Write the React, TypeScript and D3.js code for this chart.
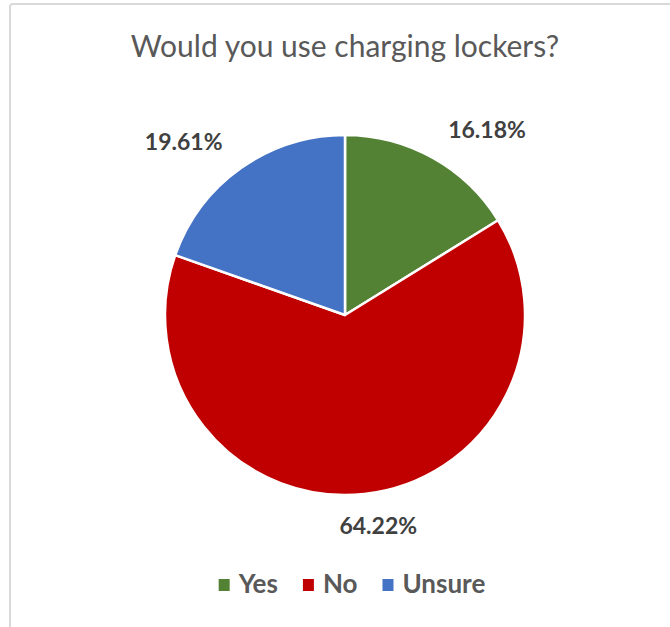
import React, { useEffect, useRef } from "react";
import * as d3 from "d3";

const categories = ["Yes", "No", "Unsure"];
const values = [16.18, 64.22, 19.61];
const colors = ["#548235", "#C00000", "#4472C4"];
const title = "Would you use charging lockers?";

const W = 670;
const H = 627;

export default function App() {
  const ref = useRef<SVGSVGElement | null>(null);

  useEffect(() => {
    const svg = d3.select(ref.current);
    svg.selectAll("*").remove();

    const font = "Lato, 'Open Sans', sans-serif";

    // chart area border
    svg
      .append("rect")
      .attr("x", 10)
      .attr("y", 4)
      .attr("width", W + 20)
      .attr("height", H + 20)
      .attr("rx", 3)
      .attr("fill", "#fff")
      .attr("stroke", "#d9d9d9")
      .attr("stroke-width", 2);

    svg
      .append("text")
      .attr("x", 345)
      .attr("y", 57)
      .attr("text-anchor", "middle")
      .attr("font-family", font)
      .attr("font-size", 30)
      .attr("fill", "#595959")
      .text(title);

    const cx = 345;
    const cy = 315;
    const r = 180;

    const data = categories.map((c, i) => ({ c, v: values[i], color: colors[i] }));
    const pie = d3
      .pie<any>()
      .value((d: any) => d.v)
      .sort(null);
    const arcs = pie(data);
    const arc = d3.arc<any>().innerRadius(0).outerRadius(r);

    const g = svg.append("g").attr("transform", `translate(${cx},${cy})`);
    g.selectAll("path")
      .data(arcs)
      .join("path")
      .attr("d", arc as any)
      .attr("fill", (d: any) => d.data.color)
      .attr("stroke", "#fff")
      .attr("stroke-width", 2.5)
      .attr("stroke-linejoin", "round");

    const R = 212;
    const labels = g
      .selectAll("text.lbl")
      .data(arcs)
      .join("text")
      .attr("class", "lbl")
      .attr("font-family", font)
      .attr("font-weight", "bold")
      .attr("font-size", 23)
      .attr("fill", "#404040")
      .attr("text-anchor", "middle")
      .attr("dy", "0.36em")
      .text((d: any) => d.data.v.toFixed(2) + "%");

    labels.each(function (d: any) {
      const node = this as SVGTextElement;
      const w = node.getComputedTextLength();
      const a = (d.startAngle + d.endAngle) / 2;
      const s = Math.sin(a);
      const c = Math.cos(a);
      const k = Math.max(-1, Math.min(1, s / 0.4));
      d3.select(node)
        .attr("x", R * s + (w / 2) * k)
        .attr("y", -R * c);
    });

    // legend
    const leg = svg.append("g");
    let x = 0;
    categories.forEach((c, i) => {
      const it = leg.append("g").attr("transform", `translate(${x},0)`);
      it.append("rect")
        .attr("x", 0)
        .attr("y", -14)
        .attr("width", 11)
        .attr("height", 12)
        .attr("fill", colors[i]);
      const t = it
        .append("text")
        .attr("x", 20)
        .attr("y", 0)
        .attr("font-family", font)
        .attr("font-weight", "bold")
        .attr("font-size", 26)
        .attr("fill", "#595959")
        .text(c);
      const tw = (t.node() as SVGTextElement).getComputedTextLength();
      x += 20 + tw + 25;
    });
    const total = x - 25;
    leg.attr("transform", `translate(${352 - total / 2},${593})`);
  }, []);

  return (
    <svg
      ref={ref}
      width={W}
      height={H}
      style={{ position: "absolute", left: 0, top: 0, background: "#fff" }}
    />
  );
}
